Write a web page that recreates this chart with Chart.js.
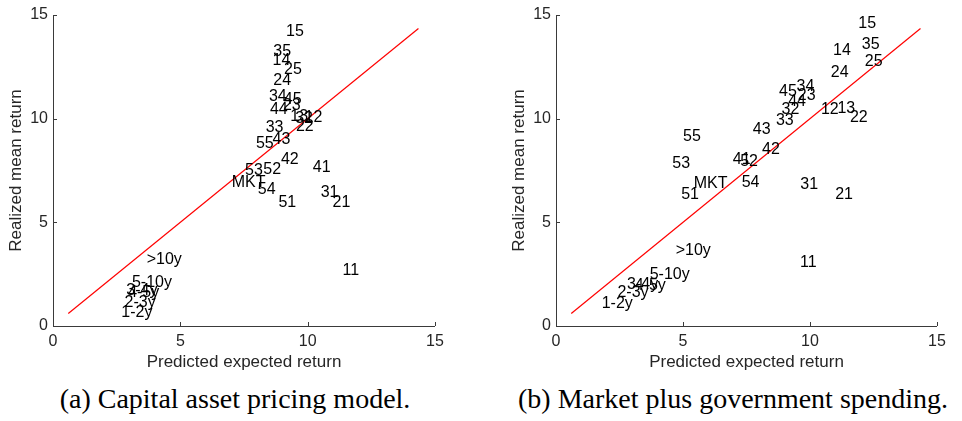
<!DOCTYPE html>
<html>
<head>
<meta charset="utf-8">
<script src="https://cdn.jsdelivr.net/npm/chart.js@4"></script>
<style>
  body { margin: 0; background: #fff; }
  #wrap { position: relative; width: 962px; height: 421px; overflow: hidden; }
  .pane { position: absolute; top: 0; }
  .cap { position: absolute; top: 383px; font-family: "Liberation Serif", serif; font-size: 28px; line-height: 32px; color: #000; white-space: nowrap; transform: translateX(-50%); }
</style>
</head>
<body>
<div id="wrap">
  <div class="pane" style="left:0px;width:460px;height:376px"><canvas id="capm"></canvas></div>
  <div class="pane" style="left:503px;width:459px;height:376px"><canvas id="gov"></canvas></div>
  <div class="cap" style="left:235px">(a) Capital asset pricing model.</div>
  <div class="cap" style="left:733px">(b) Market plus government spending.</div>
</div>
<script>
// portfolio names (size/value 5x5, market, bond maturities)
const portfolioLabels = ['11','12','13','14','15','21','22','23','24','25','31','32','33','34','35',
  '41','42','43','44','45','51','52','53','54','55','MKT','1-2y','2-3y','3-4y','4-5y','5-10y','>10y'];

// (a) CAPM: predicted vs realized
const capmPredicted = [11.37, 9.88, 9.32, 8.62, 9.15, 10.98, 9.54, 9.03, 8.65, 9.07, 10.51, 9.51, 8.35, 8.48, 8.65,
  10.2, 8.95, 8.62, 8.52, 9.06, 8.85, 8.26, 7.54, 8.04, 7.97, 7.02, 2.68, 2.81, 2.88, 2.95, 3.1, 3.68];
const capmRealized = [2.67, 10.07, 10.1, 12.78, 14.2, 5.97, 9.62, 10.63, 11.82, 12.35, 6.43, 10.02, 9.55, 11.05, 13.23,
  7.66, 8.04, 9.0, 10.42, 10.92, 5.95, 7.53, 7.48, 6.56, 8.78, 6.91, 0.65, 1.15, 1.72, 1.62, 2.09, 3.22];

// (b) market plus government spending
const govPredicted = [9.61, 10.43, 11.08, 10.91, 11.9, 10.99, 11.57, 9.52, 10.82, 12.16, 9.62, 8.88, 8.66, 9.47, 12.04,
  6.96, 8.11, 7.75, 9.14, 8.78, 4.93, 7.25, 4.58, 7.31, 5.0, 5.42, 1.8, 2.42, 2.8, 3.1, 3.69, 4.71];
const govRealized = [3.07, 10.42, 10.5, 13.27, 14.6, 6.35, 10.07, 11.1, 12.22, 12.74, 6.8, 10.42, 9.9, 11.56, 13.59,
  8.04, 8.49, 9.46, 10.8, 11.3, 6.35, 7.93, 7.85, 6.93, 9.13, 6.85, 1.1, 1.62, 2.02, 1.94, 2.49, 3.62];

// 45 degree reference line
const lineEnds = [0.6, 14.35];
const axisTicks = [0, 5, 10, 15];

const axisColor = '#3a3a3a';
const labelFont = '16px "Liberation Sans", Arial, sans-serif';

// write each name at its point, like matlab text()
const textLabels = {
  id: 'textLabels',
  afterDatasetsDraw(chart) {
    const ctx = chart.ctx;
    const meta = chart.getDatasetMeta(0);
    ctx.save();
    ctx.font = labelFont;
    ctx.fillStyle = '#000';
    ctx.textAlign = 'left';
    ctx.textBaseline = 'middle';
    meta.data.forEach((el, i) => {
      ctx.fillText(portfolioLabels[i], el.x, el.y);
    });
    ctx.restore();
  }
};

// axis lines + ticks pointing inward
const inwardTicks = {
  id: 'inwardTicks',
  afterDraw(chart) {
    const ctx = chart.ctx;
    const xs = chart.scales.x, ys = chart.scales.y;
    const a = chart.chartArea;
    ctx.save();
    ctx.strokeStyle = axisColor;
    ctx.lineWidth = 1;
    ctx.beginPath();
    ctx.moveTo(a.left + 0.5, a.top);
    ctx.lineTo(a.left + 0.5, a.bottom + 0.5);
    ctx.lineTo(a.right, a.bottom + 0.5);
    axisTicks.forEach(v => {
      const px = Math.round(xs.getPixelForValue(v)) + 0.5;
      ctx.moveTo(px, a.bottom);
      ctx.lineTo(px, a.bottom - 4);
      const py = Math.round(ys.getPixelForValue(v)) + 0.5;
      ctx.moveTo(a.left, py);
      ctx.lineTo(a.left + 4, py);
    });
    ctx.stroke();
    ctx.restore();
  }
};

function makeChart(id, xs, ys) {
  const pts = xs.map((x, i) => ({ x: x, y: ys[i] }));
  const tickFont = { family: '"Liberation Sans", Arial, sans-serif', size: 16 };
  const titleFont = { family: '"Liberation Sans", Arial, sans-serif', size: 17 };
  return new Chart(document.getElementById(id), {
    type: 'scatter',
    data: {
      datasets: [{
        data: pts,
        pointRadius: 0,
        pointHoverRadius: 0
      }, {
        data: lineEnds.map(v => ({ x: v, y: v })),
        showLine: true,
        borderColor: '#ff0000',
        borderWidth: 1.2,
        pointRadius: 0
      }]
    },
    options: {
      responsive: false,
      animation: false,
      events: [],
      layout: { padding: { top: 15, right: 25, left: 0, bottom: 0 } },
      plugins: { legend: { display: false }, tooltip: { enabled: false } },
      scales: {
        x: {
          min: 0, max: 15,
          border: { display: false },
          grid: { display: false, drawTicks: false },
          ticks: { stepSize: 5, color: '#262626', font: tickFont, padding: 6, maxRotation: 0 },
          title: { display: true, text: 'Predicted expected return', color: '#262626', font: titleFont, padding: { top: 4, bottom: 3 } },
          afterFit(s) { s.height = 50; }
        },
        y: {
          min: 0, max: 15,
          border: { display: false },
          grid: { display: false, drawTicks: false },
          ticks: { stepSize: 5, color: '#262626', font: tickFont, padding: 5 },
          title: { display: true, text: 'Realized mean return', color: '#262626', font: titleFont, padding: { top: 6, bottom: 4 } },
          afterFit(s) { s.width = 53; }
        }
      }
    },
    plugins: [textLabels, inwardTicks]
  });
}

function sizeCanvas(id, w, h) {
  const c = document.getElementById(id);
  c.width = w; c.height = h;
  c.style.width = w + 'px'; c.style.height = h + 'px';
}
sizeCanvas('capm', 460, 376);
sizeCanvas('gov', 459, 376);

makeChart('capm', capmPredicted, capmRealized);
makeChart('gov', govPredicted, govRealized);
</script>
</body>
</html>
